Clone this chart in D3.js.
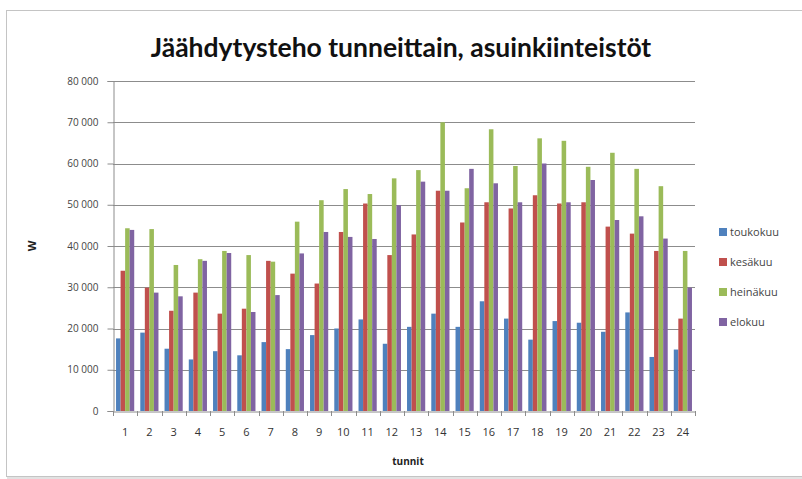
<!DOCTYPE html>
<html>
<head>
<meta charset="utf-8">
<script src="https://cdn.jsdelivr.net/npm/d3@7"></script>
<style>
  html, body { margin: 0; padding: 0; background: #fff; }
  svg { display: block; }
</style>
</head>
<body>
<div id="chart"></div>
<script>
const hours = d3.range(1, 25).map(String);
const seriesNames = ['toukokuu', 'kesäkuu', 'heinäkuu', 'elokuu'];
const seriesColors = ['#4F81BD', '#C0504D', '#9BBB59', '#8064A2'];

const toukokuu = [17600, 19000, 15100, 12500, 14500, 13500, 16700, 15000, 18400, 20000, 22200, 16300,
                  20400, 23600, 20400, 26600, 22400, 17300, 21800, 21400, 19200, 23900, 13100, 14900];
const kesakuu  = [34000, 29900, 24300, 28700, 23600, 24800, 36400, 33300, 30900, 43400, 50300, 37800,
                  42800, 53400, 45700, 50600, 49100, 52300, 50300, 50600, 44700, 43000, 38800, 22400];
const heinakuu = [44300, 44100, 35400, 36800, 38800, 37800, 36200, 45900, 51100, 53800, 52600, 56400,
                  58400, 70000, 54000, 68300, 59400, 66100, 65500, 59200, 62600, 58700, 54500, 38800];
const elokuu   = [43900, 28700, 27800, 36400, 38300, 24000, 28100, 38200, 43400, 42200, 41700, 49900,
                  55600, 53400, 58700, 55200, 50600, 60000, 50600, 56000, 46300, 47200, 41800, 29900];
const yTicks = [0, 10000, 20000, 30000, 40000, 50000, 60000, 70000, 80000];

const allSeries = [toukokuu, kesakuu, heinakuu, elokuu];

const W = 802, H = 479;
const plot = { left: 113, right: 695, top: 81, bottom: 411 };

const svg = d3.select('#chart').append('svg')
  .attr('width', W).attr('height', H);

// chart frame (runs off the right edge, soft shadow)
svg.append('rect')
  .attr('x', 7).attr('y', 12).attr('width', W + 10).attr('height', H - 12)
  .attr('fill', '#e2e2e2');
svg.append('rect')
  .attr('x', 6.5).attr('y', 10.5).attr('width', W + 10).attr('height', H - 13)
  .attr('fill', '#fff').attr('stroke', '#c4c4c4');

const x = d3.scaleBand()
  .domain(hours)
  .range([plot.left, plot.right])
  .paddingInner(0.25)
  .paddingOuter(0.125);

const xs = d3.scaleBand()
  .domain(d3.range(seriesNames.length))
  .range([0, x.bandwidth()]);

const y = d3.scaleLinear()
  .domain([0, 80000])
  .range([plot.bottom, plot.top]);

const fmt = v => d3.format(',')(v).replace(/,/g, ' ');

// gridlines
svg.append('g')
  .selectAll('line')
  .data(yTicks.filter(d => d > 0))
  .join('line')
  .attr('x1', plot.left).attr('x2', plot.right)
  .attr('y1', d => Math.round(y(d)) + 0.5).attr('y2', d => Math.round(y(d)) + 0.5)
  .attr('stroke', '#8c8c8c');

// bars
const groups = svg.append('g')
  .selectAll('g')
  .data(hours)
  .join('g')
  .attr('transform', d => `translate(${x(d)},0)`);

groups.selectAll('rect')
  .data((d, i) => allSeries.map((s, k) => ({ k, v: s[i] })))
  .join('rect')
  .attr('x', d => xs(d.k))
  .attr('width', xs.bandwidth())
  .attr('y', d => y(d.v))
  .attr('height', d => y(0) - y(d.v))
  .attr('fill', d => seriesColors[d.k]);

// y axis
const yAxis = svg.append('g')
  .attr('transform', `translate(${plot.left + 0.5},0)`)
  .call(d3.axisLeft(y).tickValues(yTicks).tickFormat(fmt).tickSize(6).tickPadding(9));
yAxis.select('.domain').attr('stroke', '#8c8c8c');
yAxis.selectAll('.tick line').attr('stroke', '#8c8c8c');
yAxis.selectAll('text')
  .attr('font-family', 'Open Sans, sans-serif')
  .attr('font-size', 10)
  .attr('fill', '#444');

// x axis
const xAxis = svg.append('g')
  .attr('transform', `translate(0,${plot.bottom + 0.5})`)
  .call(d3.axisBottom(x).tickSize(0).tickPadding(17));
xAxis.select('.domain').attr('stroke', '#8c8c8c');
xAxis.selectAll('text')
  .attr('font-family', 'Open Sans, sans-serif')
  .attr('font-size', 11)
  .attr('fill', '#333');

// category separators
const step = x.step();
svg.append('g')
  .selectAll('line')
  .data(d3.range(hours.length + 1))
  .join('line')
  .attr('x1', i => Math.round(plot.left + i * step) + 0.5)
  .attr('x2', i => Math.round(plot.left + i * step) + 0.5)
  .attr('y1', plot.bottom).attr('y2', plot.bottom + 5)
  .attr('stroke', '#8c8c8c');

// title
svg.append('text')
  .attr('x', 401).attr('y', 57)
  .attr('text-anchor', 'middle')
  .attr('font-family', 'Lato, sans-serif')
  .attr('font-weight', 'bold')
  .attr('font-size', 26.5)
  .attr('fill', '#111')
  .text('Jäähdytysteho tunneittain, asuinkiinteistöt');

// axis titles
svg.append('text')
  .attr('transform', 'translate(36,246) rotate(-90)')
  .attr('text-anchor', 'middle')
  .attr('font-family', 'Open Sans, sans-serif')
  .attr('font-weight', 'bold')
  .attr('font-size', 11)
  .attr('fill', '#222')
  .text('W');

svg.append('text')
  .attr('x', 408).attr('y', 465)
  .attr('text-anchor', 'middle')
  .attr('font-family', 'Open Sans, sans-serif')
  .attr('font-weight', 'bold')
  .attr('font-size', 10)
  .attr('fill', '#222')
  .text('tunnit');

// legend
const legend = svg.append('g')
  .selectAll('g')
  .data(seriesNames)
  .join('g')
  .attr('transform', (d, i) => `translate(719,${233 + i * 30})`);

legend.append('rect')
  .attr('x', 0).attr('y', -5)
  .attr('width', 8).attr('height', 8)
  .attr('fill', (d, i) => seriesColors[i]);

legend.append('text')
  .attr('x', 11).attr('y', 3)
  .attr('font-family', 'Open Sans, sans-serif')
  .attr('font-size', 11)
  .attr('fill', '#444')
  .text(d => d);
</script>
</body>
</html>
